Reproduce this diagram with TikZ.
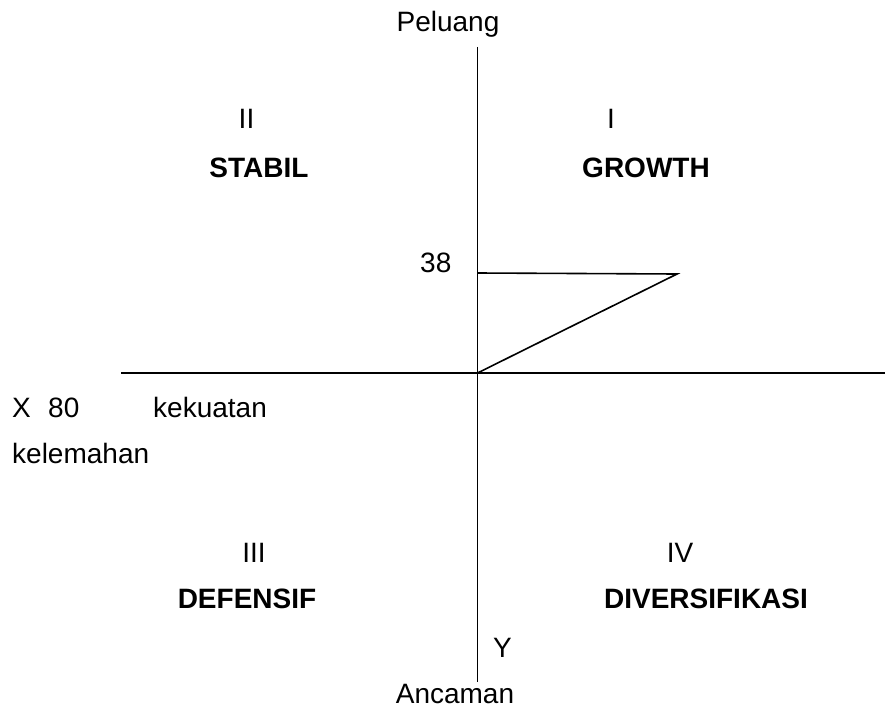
\documentclass[tikz,border=0pt]{standalone}
\usepackage{fontspec}
\setmainfont{Liberation Sans}
\begin{document}
\begin{tikzpicture}[x=1pt,y=-1pt,
  lbl/.style={inner sep=0pt,font=\fontsize{28}{32}\selectfont},
  blbl/.style={lbl,font=\fontsize{28}{32}\selectfont\bfseries},
  axis/.style={line width=1.6pt},
  tri/.style={line width=1.6pt,line join=miter}]
\useasboundingbox (0,0) rectangle (885,709);
% axes
\coordinate (top) at (477.5,47);
\coordinate (bot) at (477.5,682);
\coordinate (left) at (121,373);
\coordinate (right) at (885,373);
\coordinate (o) at (477.5,373);
\coordinate (p38) at (477.5,273);
\coordinate (apex) at (677,274);
\draw[axis] (top) -- (bot);
\draw[axis] (left) -- (right);
\draw[tri] (p38) -- (apex) -- (o);
% labels
\node[lbl,anchor=base] (peluang) at (448,32) {Peluang};
\node[lbl,anchor=base] (q2) at (246.5,128) {II};
\node[lbl,anchor=base] (q1) at (611,128) {I};
\node[blbl,anchor=base] (stabil) at (259,177) {STABIL};
\node[blbl,anchor=base] (growth) at (646,177) {GROWTH};
\node[lbl,anchor=base west] (n38) at (420,272) {38};
\node[lbl,anchor=base west] (x) at (12,417) {X};
\node[lbl,anchor=base west] (n80) at (48,417) {80};
\node[lbl,anchor=base west] (kek) at (153,417) {kekuatan};
\node[lbl,anchor=base west] (kel) at (12,463) {kelemahan};
\node[lbl,anchor=base] (q3) at (254,562) {III};
\node[lbl,anchor=base] (q4) at (680,562) {IV};
\node[blbl,anchor=base] (def) at (247,608) {DEFENSIF};
\node[blbl,anchor=base] (div) at (706,608) {DIVERSIFIKASI};
\node[lbl,anchor=base west] (y) at (493,657) {Y};
\node[lbl,anchor=base] (ancaman) at (455,703) {Ancaman};
\end{tikzpicture}
\end{document}
